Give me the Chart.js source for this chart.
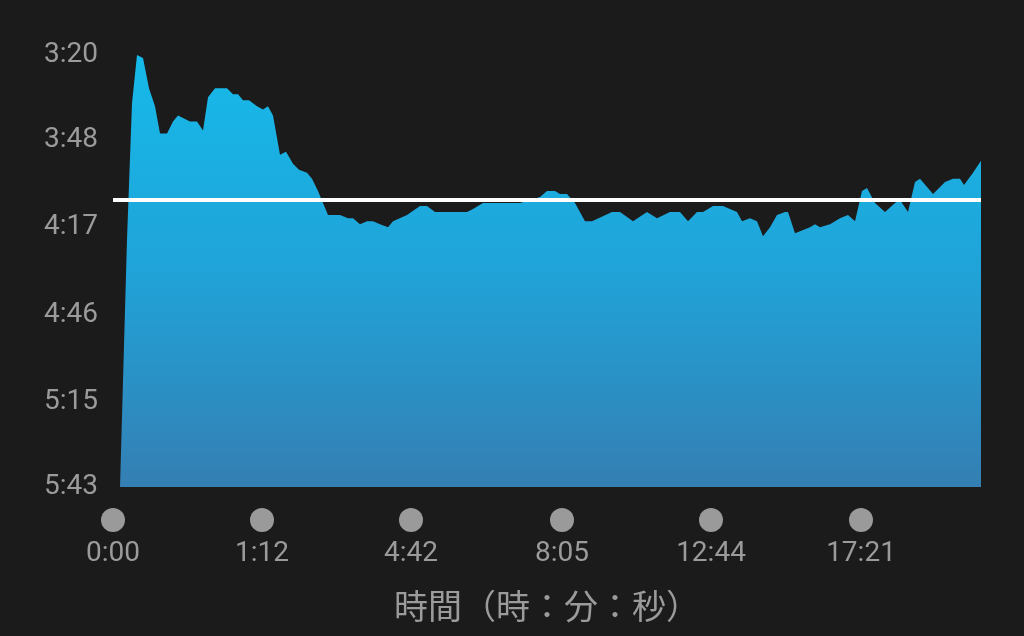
<!DOCTYPE html>
<html>
<head>
<meta charset="utf-8">
<script src="https://cdn.jsdelivr.net/npm/chart.js@4"></script>
<style>
  html, body { margin: 0; padding: 0; background: #1b1b1b; }
  #wrap { width: 1024px; height: 636px; position: relative; }
</style>
</head>
<body>
<div id="wrap"><canvas id="pace"></canvas></div>
<script>
// distance along the run (arbitrary units) and pace in seconds per km
const distance = [7, 14, 19, 24, 30, 36, 42, 47, 54, 60, 65, 77, 84, 90, 95, 102, 114, 120, 125, 130,
  136, 144, 150, 155, 160, 167, 173, 180, 186, 194, 199, 205, 215, 220, 227, 235, 240, 247, 254, 260,
  267, 275, 280, 294, 307, 314, 322, 329, 335, 344, 354, 360, 370, 380, 394, 407, 417, 427, 434, 442,
  447, 454, 462, 472, 479, 499, 507, 520, 534, 544, 557, 567, 575, 584, 590, 600, 610, 617, 624, 629,
  637, 644, 650, 657, 664, 672, 675, 682, 697, 702, 707, 717, 727, 735, 742, 749, 754, 762, 772, 782,
  787, 795, 802, 807, 820, 832, 840, 847, 851, 860, 868];
const pace = [343, 261, 216, 200, 201, 211, 217, 226, 226, 222, 220, 222, 222, 225, 214, 211, 211, 213, 213, 215,
  215, 217, 218, 217, 220, 233, 232, 236, 238, 239, 241, 245, 253, 253, 253, 254, 254, 256, 255, 255,
  256, 257, 255, 253, 250, 250, 252, 252, 252, 252, 252, 251, 249, 249, 249, 249, 248, 247, 245, 245,
  246, 246, 249, 255, 255, 252, 252, 255, 252, 254, 252, 252, 255, 252, 252, 250, 250, 251, 252, 255,
  254, 255, 260, 257, 253, 252, 252, 259, 257, 256, 257, 256, 254, 253, 255, 245, 244, 249, 252, 249,
  248, 252, 242, 241, 246, 242, 241, 241, 243, 239, 235];
const avgPace = 248;

const paceTicks = [200, 228, 257, 286, 315, 343];
const timeTickPos = [0, 149, 298, 449, 598, 748];
const timeTickLabels = ["0:00", "1:12", "4:42", "8:05", "12:44", "17:21"];
const xTitle = "時間（時：分：秒）";

const fmtPace = (s) => Math.floor(s / 60) + ":" + String(Math.round(s % 60)).padStart(2, "0");

// grey dots above each x label
const tickDots = {
  id: "tickDots",
  afterDraw(chart) {
    const ctx = chart.ctx;
    const x = chart.scales.x;
    ctx.save();
    ctx.fillStyle = "#9a9a9a";
    x.ticks.forEach((t) => {
      ctx.beginPath();
      ctx.arc(x.getPixelForValue(t.value), chart.chartArea.bottom + 33, 12, 0, Math.PI * 2);
      ctx.fill();
    });
    ctx.restore();
  },
};

const ctx = document.getElementById("pace");
new Chart(ctx, {
  type: "line",
  data: {
    datasets: [
      {
        label: "avg",
        data: [{ x: 0, y: avgPace }, { x: 868, y: avgPace }],
        borderColor: "#ffffff",
        borderWidth: 4,
        pointRadius: 0,
        fill: false,
        order: 0,
      },
      {
        label: "pace",
        data: distance.map((d, i) => ({ x: d, y: pace[i] })),
        borderWidth: 0,
        borderColor: "rgba(0,0,0,0)",
        pointRadius: 0,
        tension: 0,
        fill: "start",
        order: 1,
        backgroundColor: (c) => {
          const area = c.chart.chartArea;
          if (!area) return "#1fa8dc";
          const g = c.chart.ctx.createLinearGradient(0, area.top, 0, area.bottom);
          g.addColorStop(0, "#16baea");
          g.addColorStop(0.5, "#20a3d8");
          g.addColorStop(1, "#347fb3");
          return g;
        },
      },
    ],
  },
  options: {
    responsive: true,
    maintainAspectRatio: false,
    animation: false,
    layout: { padding: { top: 55, right: 43, left: 0, bottom: 0 } },
    plugins: { legend: { display: false }, tooltip: { enabled: false } },
    scales: {
      x: {
        type: "linear",
        min: 0,
        max: 868,
        grid: { display: false, drawTicks: false },
        border: { display: false },
        afterFit: (s) => { s.height = 149; },
        afterBuildTicks: (s) => { s.ticks = timeTickPos.map((v) => ({ value: v })); },
        ticks: {
          color: "#9b9b9b",
          padding: 50,
          maxRotation: 0,
          autoSkip: false,
          font: { family: "Roboto", size: 28 },
          callback: (v, i) => timeTickLabels[i],
        },
        title: {
          display: true,
          text: xTitle,
          color: "#9b9b9b",
          padding: { top: 14, bottom: 10 },
          font: { family: "'Noto Sans CJK JP'", size: 34 },
        },
      },
      y: {
        reverse: true,
        min: 200,
        max: 343,
        grid: { display: false, drawTicks: false },
        border: { display: false },
        afterFit: (s) => { s.width = 113; },
        afterBuildTicks: (s) => { s.ticks = paceTicks.map((v) => ({ value: v })); },
        ticks: {
          color: "#9b9b9b",
          padding: 15,
          font: { family: "Roboto", size: 28 },
          callback: (v) => fmtPace(v),
        },
      },
    },
  },
  plugins: [tickDots],
});
</script>
</body>
</html>
